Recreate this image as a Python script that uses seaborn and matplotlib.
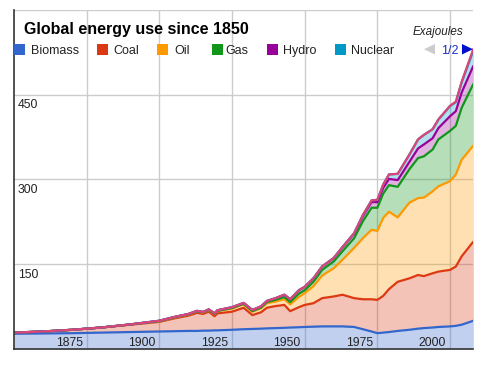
import numpy as np
import pandas as pd
import seaborn as sns
import matplotlib.pyplot as plt
import matplotlib.transforms as mtransforms
from matplotlib.patches import Rectangle, Polygon

# values, exajoules per source (not cumulative)
years = [1850, 1860, 1870, 1880, 1890, 1900, 1905, 1910, 1913, 1915, 1917, 1919,
         1920, 1925, 1929, 1932, 1935, 1937, 1940, 1943, 1945, 1948, 1950, 1953,
         1956, 1960, 1963, 1967, 1970, 1973, 1975, 1977, 1979, 1982, 1986, 1989,
         1991, 1994, 1996, 2000, 2002, 2004, 2008]
biomass = [27, 27.5, 28, 29, 30, 31, 31.5, 32, 32, 32.5, 32.5, 33,
           33, 34, 35, 35.5, 36, 36.5, 37, 37.5, 38, 38.5, 39, 39.5,
           40, 40, 40, 39, 35, 31, 28, 29, 30, 32, 34, 36,
           37, 38, 39, 40, 41, 43, 50]
coal = [2, 3.5, 6, 9, 13, 17, 22.5, 27, 32, 29.5, 33.5, 25,
        30, 32, 38, 24.5, 29, 36.5, 39, 40.5, 29, 35.5, 39, 41.5,
        50, 53, 56, 51, 53, 57, 59, 65, 76, 87, 91, 95,
        92, 96, 98, 100, 105, 121, 140]
oil = [0, 0, 0, 0, 0.5, 1, 1.5, 2, 2.5, 2.5, 2.5, 3.5,
       4, 5.5, 6, 6, 7, 8, 8, 10, 12, 18, 21, 30,
       40, 50, 62, 89, 108, 123, 122, 138, 137, 114, 134, 136,
       139, 145, 151, 157, 163, 171, 170]
gas = [0, 0, 0, 0, 0, 0.5, 0.5, 0.5, 0.5, 0.5, 0.5, 0.5,
       0.5, 1, 1, 1, 1.5, 2, 3, 4, 4, 6, 5, 8,
       10, 12, 15, 17, 30, 39, 41, 43, 47, 54, 59, 71,
       73, 74, 83, 89, 86, 92, 109]
hydro = [0, 0, 0, 0, 0, 0.5, 0.5, 0.5, 0.5, 0.5, 1, 1,
         1, 1.5, 1.5, 2, 2, 2, 3, 4, 5, 6, 6, 6,
         6, 6, 7, 8, 9, 10, 10, 10, 11, 12, 13, 17,
         21, 20, 20, 26, 26, 27, 32]
nuclear = [0, 0, 0, 0, 0, 0, 0, 0, 0, 0, 0, 0,
           0, 0, 0, 0, 0, 0, 0, 0, 0, 0, 0, 0,
           0, 0, 0.5, 1, 2, 3, 4, 6, 8, 11, 13, 16,
           17, 16, 15, 18, 16, 18, 27]
# series from the second legend page, only its top line shows
other = [0, 0, 0, 0, 0, 0, 0, 0, 0, 0, 0, 0,
         0, 0, 0, 0, 0, 0, 0, 0, 0, 0, 0, 0,
         0, 0, 0, 0, 0, 0, 0, 0, 0, 0, 0, 0,
         0, 0, 0.5, 0.5, 1, 1, 3]

sources = ["Biomass", "Coal", "Oil", "Gas", "Hydro", "Nuclear", "Other"]
colors = ["#3366cc", "#dc3912", "#ff9900", "#109618", "#990099", "#0099c6", "#dd4477"]
x_ticks = [1875, 1900, 1925, 1950, 1975, 2000]
y_ticks = [150, 300, 450]

W, H = 491, 367
sns.set_style("white")
plt.rcParams["font.family"] = ["Liberation Sans", "DejaVu Sans"]

fig = plt.figure(figsize=(W / 100, H / 100), dpi=100)
ax = fig.add_axes([14 / W, 1 - 349 / H, (473.3 - 14) / W, (349 - 10) / H])

stack = np.vstack([biomass, coal, oil, gas, hydro, nuclear, other])
ax.stackplot(years, stack, colors=colors, alpha=0.3, linewidth=0, zorder=1)

cum = np.cumsum(stack, axis=0)
df = pd.DataFrame({
    "year": np.tile(years, len(sources)),
    "total": cum.ravel(),
    "source": np.repeat(sources, len(years)),
})
sns.lineplot(data=df, x="year", y="total", hue="source", hue_order=sources,
             palette=colors, linewidth=1.6, legend=False, ax=ax,
             estimator=None, sort=False, zorder=2)

ax.set_xlim(1850, 2008)
ax.set_ylim(0, 600)
ax.set_xticks(x_ticks)
ax.set_yticks(y_ticks + [600])
ax.set_xticklabels([])
ax.set_yticklabels([])
ax.tick_params(length=0)
ax.grid(True, color="#cccccc", linewidth=1)
ax.set_axisbelow(True)
ax.set_xlabel("")
ax.set_ylabel("")
for side in ["top", "right"]:
    ax.spines[side].set_visible(False)
for side in ["left", "bottom"]:
    ax.spines[side].set_color("#333333")
    ax.spines[side].set_linewidth(1.2)

# tick labels sit inside the plot, like the original
ytrans = mtransforms.blended_transform_factory(ax.transAxes, ax.transData)
ytrans = mtransforms.offset_copy(ytrans, fig=fig, x=4, y=-4.5, units="dots")
for v in y_ticks:
    ax.text(0, v, str(v), transform=ytrans, ha="left", va="top",
            fontsize=8.7, color="#222222")
xtrans = mtransforms.blended_transform_factory(ax.transData, ax.transAxes)
xtrans = mtransforms.offset_copy(xtrans, fig=fig, x=-4, y=3.3, units="dots")
for yr in x_ticks:
    ax.text(yr, 0, str(yr), transform=xtrans, ha="right", va="baseline",
            fontsize=8.7, color="#222222")


def fx(x):
    return x / W


def fy(y):
    return 1 - y / H


fig.text(fx(24), fy(34.3), "Global energy use since 1850", fontsize=11.5,
         fontweight="bold", va="baseline", color="black")
fig.text(fx(463.3), fy(35), "Exajoules", fontsize=8.4, style="italic",
         ha="right", va="baseline", color="#222222")

sq_x = [14, 97, 157, 212, 267, 335]
txt_x = [31.5, 113.3, 174.3, 225.3, 283.3, 351]
for name, c, sx, tx in zip(sources[:6], colors[:6], sq_x, txt_x):
    fig.add_artist(Rectangle((fx(sx), fy(54.5)), 10.5 / W, 10.5 / H,
                             transform=fig.transFigure, color=c, linewidth=0))
    fig.text(fx(tx), fy(54.3), name, fontsize=9, va="baseline", color="#222222")

fig.add_artist(Polygon([(fx(435), fy(44)), (fx(435), fy(54.5)), (fx(424), fy(49.2))],
                       closed=True, transform=fig.transFigure, color="#cccccc", linewidth=0))
fig.text(fx(440.7), fy(54.3), "1/2", fontsize=9, va="baseline", color="#1a2fcc")
fig.add_artist(Polygon([(fx(462), fy(44)), (fx(462), fy(54.5)), (fx(473), fy(49.2))],
                       closed=True, transform=fig.transFigure, color="#0011cc", linewidth=0))

fig.savefig("out.png", dpi=100)
